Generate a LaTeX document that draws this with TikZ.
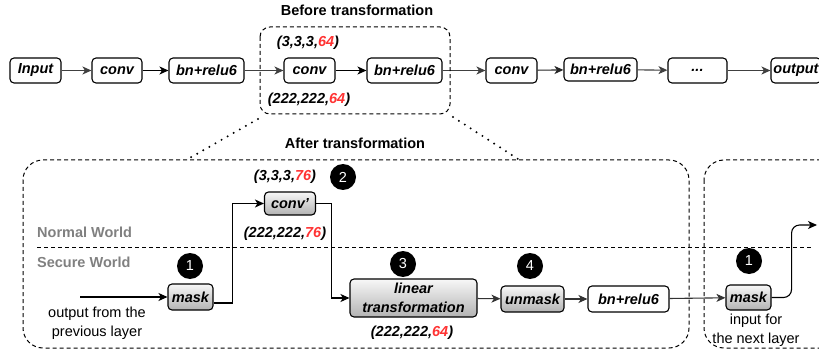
\documentclass[tikz,border=0pt]{standalone}
\usepackage{fontspec}
\setmainfont{Liberation Sans}
\usetikzlibrary{arrows.meta,calc}
\definecolor{myred}{HTML}{FF3333}
\definecolor{wgray}{HTML}{808080}
\newcommand{\fsz}{\fontsize{14.5}{19}\selectfont}
\tikzset{
  box/.style={draw, rounded corners=4pt, line width=1.1pt, minimum height=25pt, inner sep=0pt, font=\fsz\bfseries\itshape, fill=white, align=center},
  gbox/.style={box, top color=white!97!black, bottom color=black!30},
  arr/.style={-{Stealth[length=9pt,width=8pt,inset=2.5pt]}, line width=1.1pt},
  num/.style={circle, fill=black, text=white, minimum size=26pt, inner sep=0pt, font=\fsz},
  dsh/.style={line width=1pt, dash pattern=on 4pt off 3pt},
  dotline/.style={line width=2.2pt, dash pattern=on 0pt off 7pt, line cap=round},
  lbl/.style={font=\fsz\bfseries\itshape, inner sep=0pt},
  ttl/.style={font=\fsz\bfseries, inner sep=0pt},
  plain/.style={font=\fsz, inner sep=0pt, align=center},
}
\begin{document}
\begin{tikzpicture}[x=1pt,y=-1pt]
\useasboundingbox (0,0) rectangle (819,358);

% top row
\node[box, minimum width=51pt] (inp) at (35.5,70.5) {Input};
\node[box, minimum width=50pt] (c1) at (117,70.5) {conv};
\node[box, minimum width=75pt] (b1) at (206.5,70.5) {bn+relu6};
\node[box, minimum width=51pt] (c2) at (309.5,70.5) {conv};
\node[box, minimum width=75pt] (b2) at (404.5,70.5) {bn+relu6};
\node[box, minimum width=51pt] (c3) at (511.5,70.5) {conv};
\node[box, minimum width=73pt, minimum height=23pt] (b3) at (600.5,69.5) {bn+relu6};
\node[box, minimum width=59pt] (dd) at (697.5,70.5) {...};
\node[box, minimum width=50pt] (out) at (796,70.5) {output};

\draw[arr, black!75] (inp) -- (c1);
\draw[arr] (c1) -- (b1);
\draw[arr, black!75] (b1) -- (c2);
\draw[arr] (c2) -- (b2);
\draw[arr, black!75] (b2) -- (c3);
\draw[arr, black!85] (c3) -- (b3);
\draw[arr, black!75] (b3) -- (dd);
\draw[arr, black!75] (dd) -- (out);

% before transformation
\draw[dsh, rounded corners=10pt] (260,27) rectangle (450,114);
\node[ttl] (tb) at (357,10) {Before transformation};
\node[lbl] (l1) at (308,43) {(3,3,3,\textcolor{myred}{64})};
\node[lbl] (l2) at (309,100) {(222,222,\textcolor{myred}{64})};

% dotted zoom lines
\draw[dotline] (258,119) -- (188,159);
\draw[dotline] (453,117) -- (518,159);

% after transformation
\node[ttl] (ta) at (355,143) {After transformation};
\draw[dsh, rounded corners=20pt] (23,160) rectangle (689,348);
\draw[dsh, rounded corners=20pt] (704,160) rectangle (860,348);
\draw[dsh] (37,247) -- (813,247);
\node[ttl, text=wgray, anchor=west] (nw) at (37,232) {Normal World};
\node[ttl, text=wgray, anchor=west] (sw) at (37,262) {Secure World};

\node[gbox, minimum width=51pt, minimum height=23pt] (convp) at (290,203.5) {conv'};
\node[lbl] (l3) at (285,177) {(3,3,3,\textcolor{myred}{76})};
\node[num] (n2) at (343,177) {2};
\node[lbl] (l4) at (285,234) {(222,222,\textcolor{myred}{76})};

\node[gbox, minimum width=45pt, minimum height=26pt] (mask1) at (190.5,297) {mask};
\node[num] (n1) at (190,266) {1};
\coordinate (inA) at (80,297);
\draw[arr] (inA) -- (mask1);
\node[plain] (t1) at (97,323.5) {output from the\\previous layer};

\node[gbox, minimum width=127pt, minimum height=38pt] (lin) at (413.5,298) {linear\\transformation};
\node[num] (n3) at (403,264) {3};
\node[lbl] (l5) at (412,333) {(222,222,\textcolor{myred}{64})};

\node[gbox, minimum width=63pt, minimum height=26pt] (unm) at (532.5,299) {unmask};
\node[num] (n4) at (530,266) {4};
\node[box, minimum width=81pt, minimum height=26pt] (bn) at (628.5,299) {bn+relu6};

\node[gbox, minimum width=45pt, minimum height=25pt] (mask2) at (748.5,297.5) {mask};
\node[num] (n1b) at (749,261) {1};
\node[plain] (t2) at (756,330) {input for\\the next layer};
\coordinate (nx) at (817,225);

\draw[arr] ($(mask1.east)+(0,6)$) -- ++(18.5,0) |- (convp.west);
\draw[arr] (convp.east) -- ++(15,0) |- (lin.west);
\draw[arr, black!80] (lin) -- (unm);
\draw[arr, black!80] (unm) -- (bn);
\draw[arr, black!80] (bn) -- (mask2);
\draw[arr, rounded corners=8pt] (mask2.east) -- ++(20,0) |- (nx);
\end{tikzpicture}
\end{document}
